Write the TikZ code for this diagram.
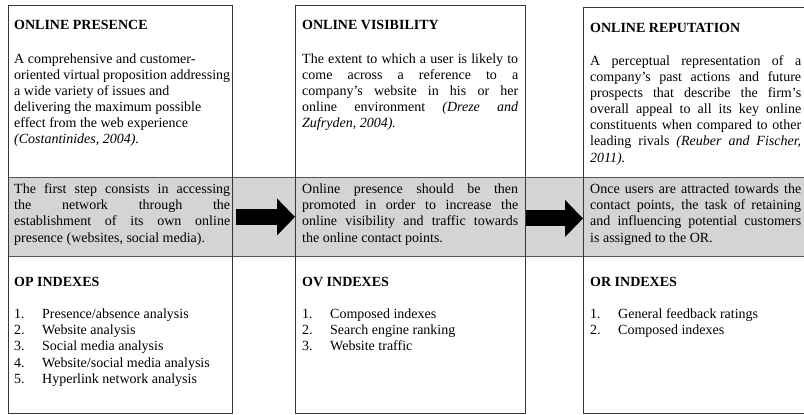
\documentclass[tikz,border=0pt]{standalone}
\usepackage{fontspec}
\setmainfont{Liberation Serif}
\usetikzlibrary{arrows.meta}
\definecolor{bandgray}{RGB}{212,212,212}
\definecolor{linegray}{RGB}{55,55,55}
\newcommand{\jl}[1]{\hbox to \linewidth{#1}}
\newcommand{\rl}[1]{\hbox to \linewidth{#1\hfil}}
\newcommand{\li}[2]{\hbox{\hbox to 28pt{#1\hfil}#2}}
\begin{document}
\begin{tikzpicture}[x=1pt,y=-1pt,
  colbox/.style={draw=linegray,line width=1.1pt,inner sep=0pt,anchor=north west},
  band/.style={fill=bandgray,draw=linegray!85,line width=0.9pt,inner sep=0pt,anchor=north west},
  txt/.style={anchor=base west,inner sep=0pt,font=\fontsize{14}{16.2}\selectfont},
  ttl/.style={txt,font=\fontsize{14}{16.2}\selectfont\bfseries},
  bigarrow/.style={line width=16pt,-{Triangle[length=18pt,width=36pt]},black}]
\useasboundingbox (0,0) rectangle (804,415);
\clip (0,0) rectangle (804,415);
% grey band
\node[band,minimum width=840pt,minimum height=79pt] (band) at (8,177) {};
% column boxes
\node[colbox,minimum width=224pt,minimum height=408pt] (opbox) at (8,5) {};
\node[colbox,minimum width=230pt,minimum height=408pt] (ovbox) at (295,5) {};
\node[colbox,minimum width=260pt,minimum height=406pt] (orbox) at (583,7) {};
% arrows
\draw[bigarrow,shorten <=3pt] (opbox.east |- band.center) -- (ovbox.west |- band.center);
\draw[bigarrow] ([yshift=-1.5pt]ovbox.east |- band.center) -- ([yshift=-1.5pt]orbox.west |- band.center);
% ---- Online presence
\node[ttl] (opT) at (14,30) {ONLINE PRESENCE};
\node[txt] (opD) at (14,63) {\parbox[t]{216pt}{%
 \rl{A comprehensive and customer-}%
 \rl{oriented virtual proposition addressing}%
 \rl{a wide variety of issues and}%
 \rl{delivering the maximum possible}%
 \rl{effect from the web experience}%
 \rl{\itshape (Costantinides, 2004).}}};
\node[txt] (opS) at (14,193.5) {\parbox[t]{216pt}{%
 \jl{The first step consists in accessing}%
 \jl{the network through the}%
 \jl{establishment of its own online}%
 \rl{presence (websites, social media).}}};
\node[ttl] (opI) at (14,286) {OP INDEXES};
\node[txt] (opL) at (14,318.5) {\parbox[t]{216pt}{%
 \li{1.}{Presence/absence analysis}%
 \li{2.}{Website analysis}%
 \li{3.}{Social media analysis}%
 \li{4.}{Website/social media analysis}%
 \li{5.}{Hyperlink network analysis}}};
% ---- Online visibility
\node[ttl] (ovT) at (302,30) {ONLINE VISIBILITY};
\node[txt] (ovD) at (302,63) {\parbox[t]{216pt}{%
 \jl{The extent to which a user is likely to}%
 \jl{come across a reference to a}%
 \jl{company’s website in his or her}%
 \jl{online environment \textit{(Dreze and}}%
 \rl{\textit{Zufryden, 2004).}}}};
\node[txt] (ovS) at (302,193.5) {\parbox[t]{216pt}{%
 \jl{Online presence should be then}%
 \jl{promoted in order to increase the}%
 \jl{online visibility and traffic towards}%
 \rl{the online contact points.}}};
\node[ttl] (ovI) at (302,286) {OV INDEXES};
\node[txt] (ovL) at (302,318.5) {\parbox[t]{216pt}{%
 \li{1.}{Composed indexes}%
 \li{2.}{Search engine ranking}%
 \li{3.}{Website traffic}}};
% ---- Online reputation
\node[ttl] (orT) at (590,32) {ONLINE REPUTATION};
\node[txt] (orD) at (590,65) {\parbox[t]{211pt}{%
 \jl{A perceptual representation of a}%
 \jl{company's past actions and future}%
 \jl{prospects that describe the firm’s}%
 \jl{overall appeal to all its key online}%
 \jl{constituents when compared to other}%
 \jl{leading rivals \textit{(Reuber and Fischer,}}%
 \rl{\textit{2011).}}}};
\node[txt] (orS) at (590,193.5) {\parbox[t]{211pt}{%
 \jl{Once users are attracted towards the}%
 \jl{contact points, the task of retaining}%
 \jl{and influencing potential customers}%
 \rl{is assigned to the OR.}}};
\node[ttl] (orI) at (590,286) {OR INDEXES};
\node[txt] (orL) at (590,318.5) {\parbox[t]{211pt}{%
 \li{1.}{General feedback ratings}%
 \li{2.}{Composed indexes}}};
\end{tikzpicture}
\end{document}
